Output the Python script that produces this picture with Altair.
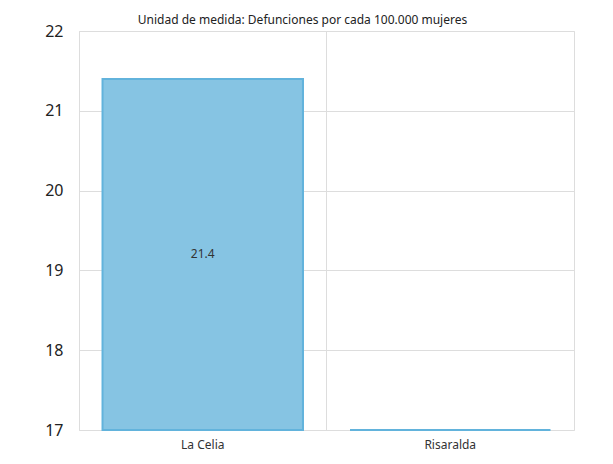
import altair as alt
import pandas as pd

categories = ["La Celia", "Risaralda"]
values = [21.4, 17.0]
labels = ["21.4", ""]
subtitle = "Unidad de medida: Defunciones por cada 100.000 mujeres"

df = pd.DataFrame({"lugar": categories, "valor": values, "etiqueta": labels})
df["medio"] = (df["valor"] + 17) / 2

xenc = alt.X("lugar:N", sort=categories, title=None,
             scale=alt.Scale(paddingInner=0, paddingOuter=0),
             axis=alt.Axis(labelAngle=0, labelFontSize=12, labelColor="#333333",
                           labelFont="Noto Sans", labelPadding=9, ticks=False,
                           domain=False, grid=True, gridColor="#dddddd",
                           bandPosition=0))
yscale = alt.Scale(domain=[17, 22], nice=False, zero=False)

bars = alt.Chart(df).mark_bar(fill="#86C4E3", stroke="#62B3DC",
                              strokeWidth=2,
                              width=alt.RelativeBandSize(0.81)).encode(
    x=xenc,
    y=alt.Y("valor:Q", scale=yscale, title=None,
            axis=alt.Axis(values=[17, 18, 19, 20, 21, 22], format="d",
                          labelFontSize=16, labelColor="#222222",
                          labelFont="Noto Sans", labelPadding=16, ticks=False,
                          domain=False, gridColor="#dddddd")),
    y2=alt.datum(17),
)

text = alt.Chart(df).mark_text(clip=True, fontSize=12, color="#333333",
                               font="Noto Sans").encode(
    x=alt.X("lugar:N", sort=categories),
    y=alt.Y("medio:Q", scale=yscale),
    text="etiqueta:N",
)

chart = (bars + text).properties(
    width=495, height=399,
    title=alt.TitleParams(subtitle, fontSize=12, font="Noto Sans",
                          fontWeight="normal", color="#222222",
                          anchor="middle", dx=-24, dy=12, offset=8),
    autosize=alt.AutoSizeParams(type="none"),
    padding={"left": 71, "top": 23, "right": 31, "bottom": 25},
).configure_view(stroke="#dddddd")

chart.save("out.html", embed_options={"renderer": "svg", "actions": False})
